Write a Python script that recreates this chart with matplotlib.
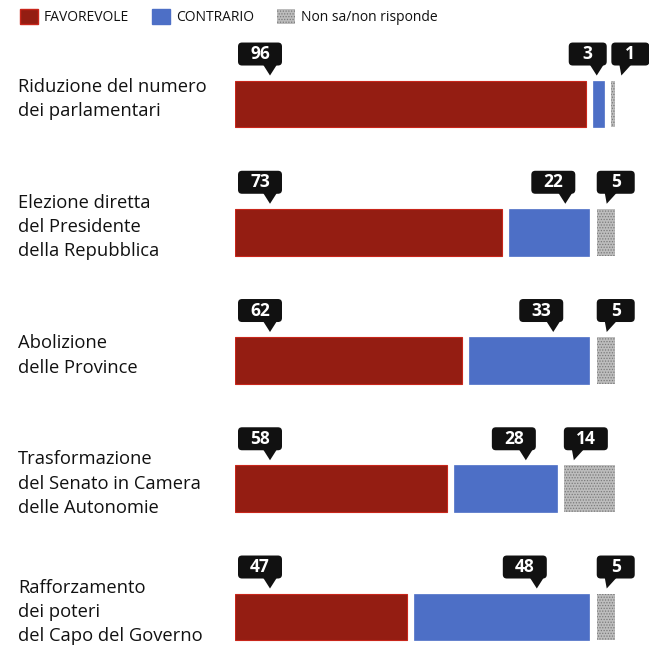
import numpy as np
import matplotlib
matplotlib.use("Agg")
import matplotlib.pyplot as plt
import matplotlib.transforms as mtransforms
from matplotlib.patches import FancyBboxPatch, Polygon, Patch

# %% Data
labels = ["Riduzione del numero\ndei parlamentari",
          "Elezione diretta\ndel Presidente\ndella Repubblica",
          "Abolizione\ndelle Province",
          "Trasformazione\ndel Senato in Camera\ndelle Autonomie",
          "Rafforzamento\ndei poteri\ndel Capo del Governo"]
favorevole = [96, 73, 62, 58, 47]
contrario = [3, 22, 33, 28, 48]
non_sa = [1, 5, 5, 14, 5]
series_names = ["FAVOREVOLE", "CONTRARIO", "Non sa/non risponde"]

red = "#941d12"
blue = "#4d6fc6"
grey = "#bdbdbd"

plt.rcParams['font.family'] = ['Open Sans', 'DejaVu Sans']
plt.rcParams['hatch.linewidth'] = 0.6

# %% Figure, one axes in the bar area
fig = plt.figure(figsize=(6.49, 6.62), dpi=100)
W, H = 649, 662
ax = fig.add_axes([235 / W, 0, 380 / W, (H - 40) / H])
gap = 2
ax.set_xlim(0, 100 + 2 * gap)
ax.set_ylim(4.351, -0.499)
ax.axis('off')
bar_h = 0.366

y = np.arange(len(labels))
fav = np.array(favorevole)
con = np.array(contrario)
ns = np.array(non_sa)
con_left = fav + gap
ns_left = con_left + con + gap

ax.barh(y, fav, height=bar_h, color=red, edgecolor="#c8261b", linewidth=0.8)
ax.barh(y, con, left=con_left, height=bar_h, color=blue, edgecolor=blue,
        linewidth=0.5)
ax.barh(y, ns, left=ns_left, height=bar_h, color=grey, edgecolor="#7a7a7a",
        hatch="......", linewidth=0)

# %% Row labels on the left
lab_tr = mtransforms.blended_transform_factory(fig.transFigure, ax.transData)
for i, lab in enumerate(labels):
    ax.text(18 / W, i - 0.04, lab, transform=lab_tr, ha='left', va='center',
            fontsize=13.2, linespacing=1.45, color="#111111")


# %% Callouts (shapes given in pixels relative to an anchor point)
def callout(xd, yd, text, box_left, tip_dx, tail="right"):
    tr = fig.dpi_scale_trans + mtransforms.ScaledTranslation(xd, yd, ax.transData)
    w = 44 if len(text) > 1 else 38
    bottom, top = 15, 38
    box = FancyBboxPatch((box_left / 100, bottom / 100), w / 100, (top - bottom) / 100,
                         boxstyle="round,pad=0,rounding_size=0.04",
                         facecolor="#111111", edgecolor="none",
                         transform=tr, clip_on=False)
    fig.add_artist(box)
    if tail == "right":
        pts = [(tip_dx - 7, bottom + 1), (tip_dx + 7, bottom + 1), (tip_dx, 5)]
    else:
        pts = [(tip_dx - 2, bottom + 1), (tip_dx + 10, bottom + 1), (tip_dx, 5)]
    fig.add_artist(Polygon(np.array(pts) / 100, closed=True, facecolor="#111111",
                           edgecolor="none", transform=tr, clip_on=False))
    fig.text((box_left + w / 2) / 100, (bottom + top) / 200, text, transform=tr,
             ha='center', va='center', color='white', fontsize=12.5,
             fontweight='bold')


for i in range(len(labels)):
    top_y = y[i] - bar_h / 2
    # favorevole: box at left of red bar
    callout(0, top_y, str(fav[i]), 3, 35, "right")
    # contrario: tip near right part of the blue segment
    tip = min(con_left[i] + 0.7 * con[i], ns_left[i] - 4)
    w = 44 if con[i] >= 10 else 38
    callout(tip, top_y, str(con[i]), 10 - w, 0, "right")
    # non sa: box starts at grey segment
    callout(ns_left[i], top_y, str(ns[i]), 0, 10, "left")

# %% Legend
handles = [Patch(facecolor=red, edgecolor="#c8261b"),
           Patch(facecolor=blue, edgecolor=blue),
           Patch(facecolor=grey, edgecolor="#7a7a7a", hatch="......", linewidth=0)]
fig.legend(handles, series_names, loc='upper left',
           bbox_to_anchor=(14 / W, 1 - 3 / H), ncol=3, frameon=False,
           fontsize=10, handlelength=1.3, handleheight=1.3,
           handletextpad=0.4, columnspacing=1.7, borderaxespad=0,
           labelcolor="#111111")

fig.savefig("out.png", dpi=100)
